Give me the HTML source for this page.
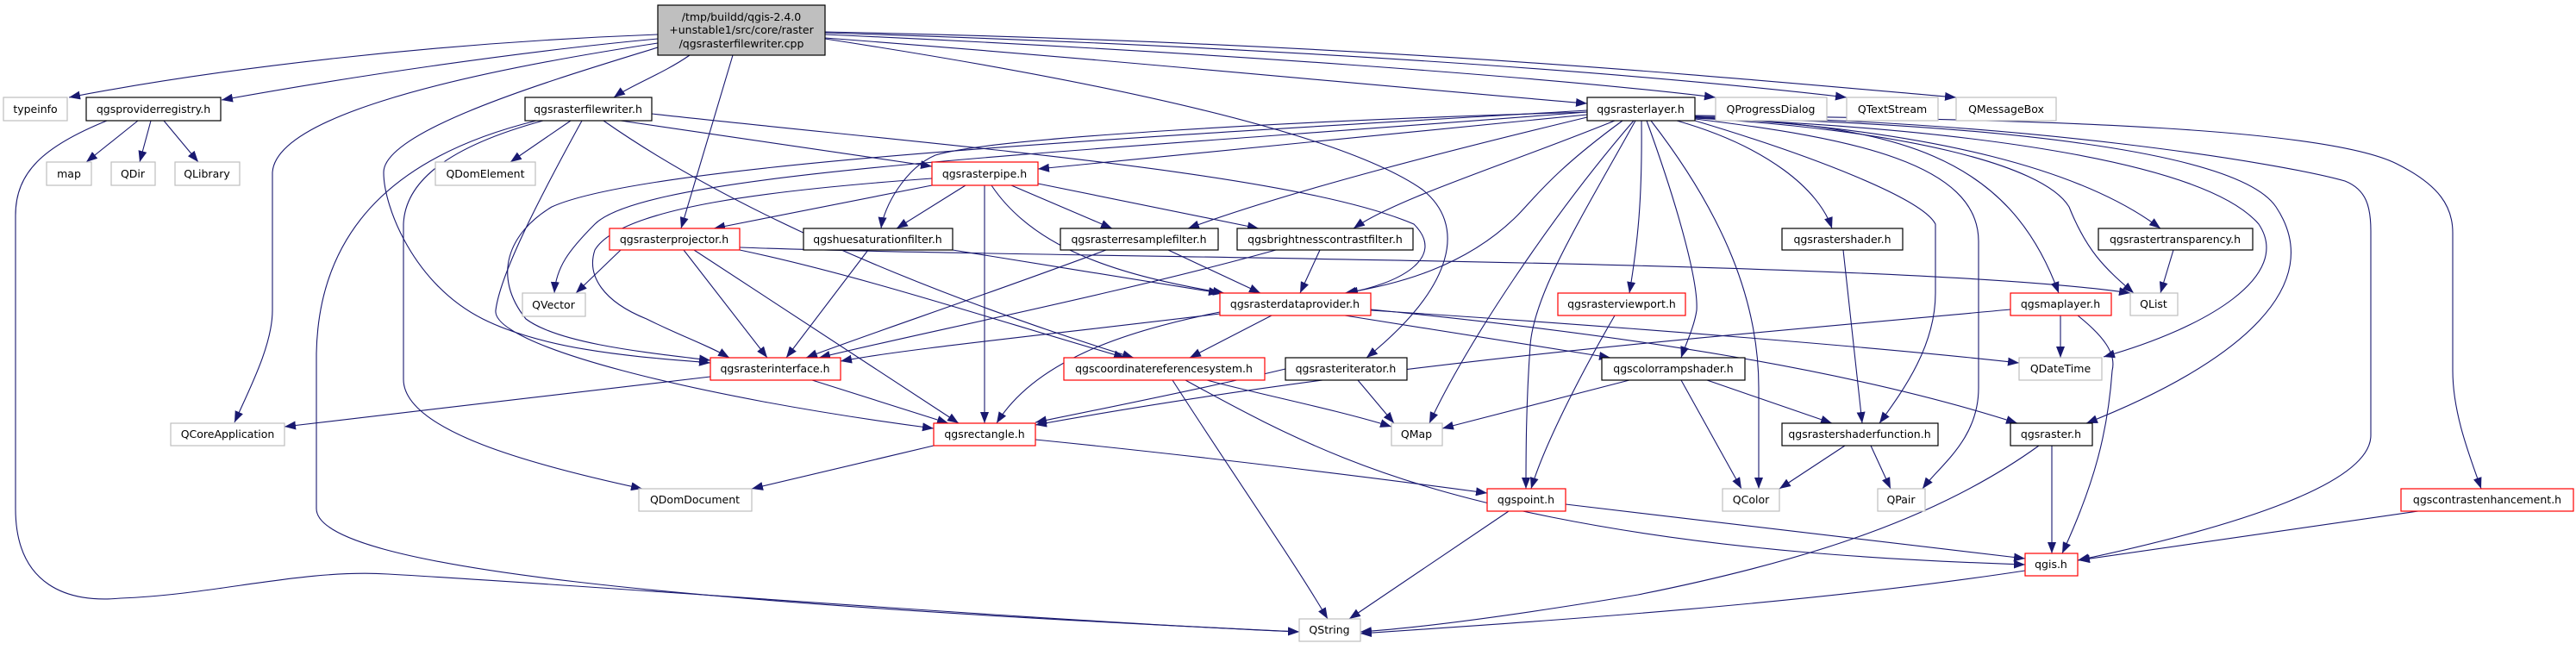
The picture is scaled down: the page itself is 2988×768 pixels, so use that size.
<!DOCTYPE html>
<html><head><meta charset="utf-8"><style>
html,body{margin:0;padding:0;background:#fff;}
svg{display:block;}
text{font-family:"DejaVu Sans","Liberation Sans",sans-serif;font-size:12.5px;fill:#000;}
</style></head><body>
<svg width="2988" height="768" viewBox="0 0 2988 768" xmlns="http://www.w3.org/2000/svg">
<defs>
<marker id="a" markerUnits="userSpaceOnUse" markerWidth="14" markerHeight="10" refX="13" refY="5" orient="auto">
<path d="M0,0 L13,5 L0,10 Z" fill="#191970"/>
</marker>
</defs>
<g fill="none" stroke="#191970" stroke-width="1.1" marker-end="url(#a)">
<path d="M763,40 C500,50 250,80 80,113"/>
<path d="M763,45 C600,60 400,90 257,116"/>
<path d="M763,50 C500,90 320,140 316,200 L316,360 C316,400 290,450 272,490"/>
<path d="M763,55 C650,90 445,150 445,200 C445,240 480,330 560,370 C640,410 760,415 824,421"/>
<path d="M800,64 C770,85 730,100 712,113"/>
<path d="M850,64 L790,265"/>
<path d="M957,44 C1300,70 1600,100 1841,120"/>
<path d="M957,40 C1400,60 1800,90 1990,113"/>
<path d="M957,38 C1500,55 1900,85 2142,113"/>
<path d="M957,37 C1600,50 2000,90 2269,113"/>
<path d="M957,45 C1250,90 1550,150 1650,220 C1700,260 1690,330 1585,415"/>
<path d="M160,140 L100,188"/>
<path d="M175,140 L162,188"/>
<path d="M190,140 L230,188"/>
<path d="M124,140 C50,170 18,200 18,250 L18,590 C18,680 80,700 140,694 C250,690 350,660 450,666 C700,680 1200,720 1507,733"/>
<path d="M662,140 L592,188"/>
<path d="M622,140 C480,175 370,250 367,410 L367,590 C367,660 800,700 1507,733"/>
<path d="M630,140 C520,170 470,210 468,260 L468,440 C468,500 620,540 745,567"/>
<path d="M675,140 C620,240 580,320 575,360 C570,400 800,460 1083,497"/>
<path d="M720,140 L1081,193"/>
<path d="M756,132 C1100,170 1500,200 1640,260 C1680,300 1620,330 1562,340"/>
<path d="M700,140 C900,280 1200,380 1315,415"/>
<path d="M1841,128 C1300,160 750,190 640,240 C590,270 570,320 610,370 C650,400 760,410 824,418"/>
<path d="M1841,130 C1200,180 750,200 690,260 C660,290 645,310 643,340"/>
<path d="M1841,133 L1204,196"/>
<path d="M1841,130 C1500,140 1150,160 1085,180 C1050,195 1025,240 1022,265"/>
<path d="M1841,136 C1700,170 1500,220 1378,265"/>
<path d="M1873,140 C1750,190 1620,230 1570,265"/>
<path d="M1882,140 C1800,200 1780,230 1760,250 C1700,310 1620,330 1560,340"/>
<path d="M1895,140 C1800,250 1700,400 1658,491"/>
<path d="M1897,140 C1830,260 1780,340 1775,400 C1770,470 1770,530 1770,567"/>
<path d="M1904,140 C1905,230 1900,280 1890,340"/>
<path d="M1910,140 C1950,250 1970,330 1968,360 C1965,380 1955,400 1950,415"/>
<path d="M1915,140 C2000,250 2040,350 2040,450 L2040,567"/>
<path d="M1945,140 C2050,170 2110,220 2125,265"/>
<path d="M1966,140 C2100,180 2230,230 2245,260 L2245,340 C2245,400 2210,450 2180,491"/>
<path d="M1966,138 C2150,160 2295,190 2295,280 L2295,450 C2295,510 2250,540 2230,567"/>
<path d="M1966,137 C2200,150 2370,190 2400,240 C2420,290 2440,310 2475,340"/>
<path d="M1966,136 C2200,145 2330,180 2388,340"/>
<path d="M1966,136 C2250,150 2420,200 2506,265"/>
<path d="M1966,137 C2300,150 2560,190 2620,260 C2660,320 2560,380 2440,414"/>
<path d="M1966,136 C2350,145 2600,180 2640,240 C2700,330 2600,420 2420,491"/>
<path d="M1966,135 C2350,140 2650,190 2720,210 C2745,220 2750,240 2750,268 L2750,505 C2750,560 2600,610 2410,650"/>
<path d="M1966,134 C2400,138 2700,150 2780,190 C2830,215 2845,240 2845,270 L2845,430 C2845,480 2865,530 2878,567"/>
<path d="M2332,359 C2000,390 1600,420 1201,493"/>
<path d="M1491,428 C1400,450 1250,480 1201,490"/>
<path d="M858,287 C1200,300 2200,300 2471,340"/>
<path d="M1081,215 L828,265"/>
<path d="M1120,215 L1040,265"/>
<path d="M1142,215 L1142,491"/>
<path d="M1173,215 L1290,265"/>
<path d="M1204,213 L1460,265"/>
<path d="M1150,215 C1200,290 1300,320 1420,340"/>
<path d="M1081,207 C900,220 720,240 690,290 C680,320 700,350 750,370 C790,390 820,400 846,415"/>
<path d="M720,290 L668,340"/>
<path d="M793,290 L890,415"/>
<path d="M805,290 L1112,491"/>
<path d="M858,290 C1000,320 1150,370 1305,415"/>
<path d="M1007,290 L912,415"/>
<path d="M1105,290 C1200,305 1350,330 1415,340"/>
<path d="M1283,290 C1150,340 1000,390 935,415"/>
<path d="M1355,290 L1462,340"/>
<path d="M1480,290 C1300,340 1050,390 950,415"/>
<path d="M1531,290 L1508,340"/>
<path d="M2138,290 L2160,491"/>
<path d="M2521,290 L2506,340"/>
<path d="M1873,366 C1830,440 1790,520 1776,567"/>
<path d="M2390,366 L2390,415"/>
<path d="M2410,366 C2440,390 2455,410 2450,430 C2445,500 2430,560 2392,642"/>
<path d="M1415,364 C1200,390 1050,405 975,419"/>
<path d="M1415,362 C1300,385 1200,420 1156,491"/>
<path d="M1475,366 L1380,415"/>
<path d="M1560,366 L1868,415"/>
<path d="M1590,360 C1900,380 2200,405 2342,421"/>
<path d="M1590,359 C1900,390 2150,430 2340,491"/>
<path d="M1400,441 C1450,455 1550,475 1614,495"/>
<path d="M1360,441 C1430,550 1500,650 1540,718"/>
<path d="M1375,441 C1500,510 1600,560 1800,600 C2000,640 2200,650 2349,655"/>
<path d="M1575,441 L1617,491"/>
<path d="M824,437 L330,495"/>
<path d="M942,441 L1100,491"/>
<path d="M1890,441 L1673,497"/>
<path d="M1950,441 L2020,567"/>
<path d="M1980,441 L2125,491"/>
<path d="M2140,517 L2064,567"/>
<path d="M2170,517 L2193,567"/>
<path d="M2380,517 L2380,642"/>
<path d="M2365,517 C2250,600 2100,650 1900,690 C1750,715 1650,728 1578,733"/>
<path d="M1083,517 L872,567"/>
<path d="M1201,510 C1400,530 1600,555 1725,572"/>
<path d="M1750,593 L1565,718"/>
<path d="M1816,585 L2349,648"/>
<path d="M2349,662 C2100,700 1800,720 1578,735"/>
<path d="M2805,593 L2411,650"/>
</g>
<g stroke-width="1.2" fill="#fff">
<rect x="763" y="6" width="194" height="58" fill="#bfbfbf" stroke="#000"/>
<rect x="4" y="113" width="74" height="27" stroke="#bfbfbf"/>
<rect x="100" y="113" width="156" height="27" stroke="#000"/>
<rect x="609" y="113" width="147" height="27" stroke="#000"/>
<rect x="1841" y="113" width="125" height="27" stroke="#000"/>
<rect x="1990" y="113" width="129" height="27" stroke="#bfbfbf"/>
<rect x="2142" y="113" width="106" height="27" stroke="#bfbfbf"/>
<rect x="2269" y="113" width="116" height="27" stroke="#bfbfbf"/>
<rect x="54" y="188" width="52" height="27" stroke="#bfbfbf"/>
<rect x="129" y="188" width="51" height="27" stroke="#bfbfbf"/>
<rect x="203" y="188" width="75" height="27" stroke="#bfbfbf"/>
<rect x="505" y="188" width="116" height="27" stroke="#bfbfbf"/>
<rect x="1081" y="188" width="123" height="27" stroke="#ff0000"/>
<rect x="707" y="265" width="151" height="25" stroke="#ff0000"/>
<rect x="932" y="265" width="173" height="25" stroke="#000"/>
<rect x="1230" y="265" width="183" height="25" stroke="#000"/>
<rect x="1435" y="265" width="204" height="25" stroke="#000"/>
<rect x="2067" y="265" width="140" height="25" stroke="#000"/>
<rect x="2434" y="265" width="179" height="25" stroke="#000"/>
<rect x="606" y="340" width="73" height="27" stroke="#bfbfbf"/>
<rect x="1415" y="340" width="175" height="26" stroke="#ff0000"/>
<rect x="1807" y="340" width="148" height="26" stroke="#ff0000"/>
<rect x="2332" y="340" width="117" height="26" stroke="#ff0000"/>
<rect x="2471" y="340" width="55" height="26" stroke="#bfbfbf"/>
<rect x="824" y="415" width="151" height="26" stroke="#ff0000"/>
<rect x="1234" y="415" width="233" height="26" stroke="#ff0000"/>
<rect x="1491" y="415" width="141" height="26" stroke="#000"/>
<rect x="1858" y="415" width="166" height="26" stroke="#000"/>
<rect x="2342" y="415" width="96" height="26" stroke="#bfbfbf"/>
<rect x="198" y="491" width="132" height="26" stroke="#bfbfbf"/>
<rect x="1083" y="491" width="118" height="26" stroke="#ff0000"/>
<rect x="1614" y="491" width="59" height="26" stroke="#bfbfbf"/>
<rect x="2067" y="491" width="181" height="26" stroke="#000"/>
<rect x="2332" y="491" width="95" height="26" stroke="#000"/>
<rect x="741" y="567" width="131" height="26" stroke="#bfbfbf"/>
<rect x="1725" y="567" width="91" height="26" stroke="#ff0000"/>
<rect x="1998" y="567" width="66" height="26" stroke="#bfbfbf"/>
<rect x="2178" y="567" width="55" height="26" stroke="#bfbfbf"/>
<rect x="2785" y="567" width="200" height="26" stroke="#ff0000"/>
<rect x="2349" y="642" width="61" height="26" stroke="#ff0000"/>
<rect x="1507" y="718" width="71" height="26" stroke="#bfbfbf"/>
</g>
<g text-anchor="middle">
<text x="860" y="24">/tmp/buildd/qgis-2.4.0</text>
<text x="860" y="39">+unstable1/src/core/raster</text>
<text x="860" y="55">/qgsrasterfilewriter.cpp</text>
<text x="41" y="131">typeinfo</text>
<text x="178" y="131">qgsproviderregistry.h</text>
<text x="682" y="131">qgsrasterfilewriter.h</text>
<text x="1903" y="131">qgsrasterlayer.h</text>
<text x="2054" y="131">QProgressDialog</text>
<text x="2195" y="131">QTextStream</text>
<text x="2327" y="131">QMessageBox</text>
<text x="80" y="206">map</text>
<text x="154" y="206">QDir</text>
<text x="240" y="206">QLibrary</text>
<text x="563" y="206">QDomElement</text>
<text x="1142" y="206">qgsrasterpipe.h</text>
<text x="782" y="282">qgsrasterprojector.h</text>
<text x="1018" y="282">qgshuesaturationfilter.h</text>
<text x="1321" y="282">qgsrasterresamplefilter.h</text>
<text x="1537" y="282">qgsbrightnesscontrastfilter.h</text>
<text x="2137" y="282">qgsrastershader.h</text>
<text x="2523" y="282">qgsrastertransparency.h</text>
<text x="642" y="358">QVector</text>
<text x="1502" y="357">qgsrasterdataprovider.h</text>
<text x="1881" y="357">qgsrasterviewport.h</text>
<text x="2390" y="357">qgsmaplayer.h</text>
<text x="2498" y="357">QList</text>
<text x="899" y="432">qgsrasterinterface.h</text>
<text x="1350" y="432">qgscoordinatereferencesystem.h</text>
<text x="1561" y="432">qgsrasteriterator.h</text>
<text x="1941" y="432">qgscolorrampshader.h</text>
<text x="2390" y="432">QDateTime</text>
<text x="264" y="508">QCoreApplication</text>
<text x="1142" y="508">qgsrectangle.h</text>
<text x="1643" y="508">QMap</text>
<text x="2157" y="508">qgsrastershaderfunction.h</text>
<text x="2379" y="508">qgsraster.h</text>
<text x="806" y="584">QDomDocument</text>
<text x="1770" y="584">qgspoint.h</text>
<text x="2031" y="584">QColor</text>
<text x="2205" y="584">QPair</text>
<text x="2885" y="584">qgscontrastenhancement.h</text>
<text x="2379" y="659">qgis.h</text>
<text x="1542" y="735">QString</text>
</g>
</svg>
</body></html>
